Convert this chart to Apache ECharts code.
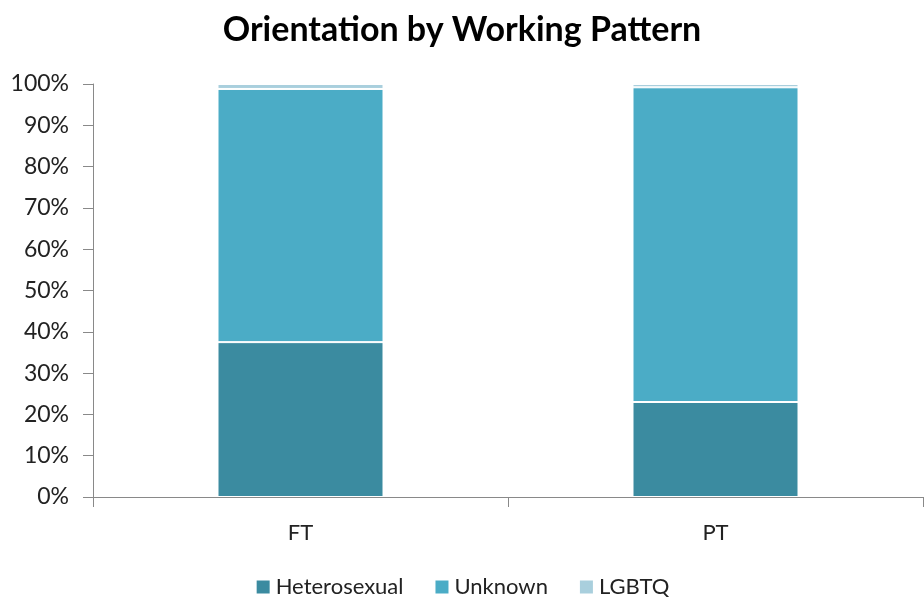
<!DOCTYPE html>
<html style="height: 100%">
    <head>
        <meta charset="utf-8">
        <title>Orientation by Working Pattern</title>
        <script type="text/javascript" src="https://cdn.jsdelivr.net/npm/echarts@6/dist/echarts.min.js"></script>
    </head>
    <body style="height: 100%; margin: 0">
        <div id="container" style="width: 924px; height: 606px"></div>
        <script type="text/javascript">

        var categories = ['FT', 'PT'];
        var heterosexual = [37.5, 23.0];
        var unknown = [61.3, 76.2];
        var lgbtq = [1.2, 0.8];
        var yTicks = [0, 10, 20, 30, 40, 50, 60, 70, 80, 90, 100];

        var myChart = echarts.init(document.getElementById('container'));
        var font = 'Lato, "Open Sans", sans-serif';

        function bar(name, data, color) {
            return {
                name: name,
                type: 'bar',
                stack: 'all',
                barWidth: '40%',
                data: data,
                itemStyle: { color: color, borderColor: '#ffffff', borderWidth: 1 }
            };
        }

        var option = {
            title: {
                text: 'Orientation by Working Pattern',
                left: 'center',
                top: 8,
                textStyle: { fontFamily: font, fontSize: 34, fontWeight: 'bold', color: '#000' }
            },
            legend: {
                bottom: 3,
                itemWidth: 15,
                itemHeight: 15,
                itemGap: 30,
                icon: 'rect',
                textStyle: { fontFamily: font, fontSize: 22, color: '#222' },
                data: ['Heterosexual', 'Unknown', 'LGBTQ']
            },
            grid: { left: 93, right: 1, top: 84, bottom: 109 },
            xAxis: {
                type: 'category',
                data: categories,
                axisLine: { lineStyle: { color: '#898989' } },
                axisTick: { show: true, length: 10, alignWithLabel: false, lineStyle: { color: '#898989' } },
                axisLabel: { fontFamily: font, fontSize: 22, color: '#222', margin: 25 }
            },
            yAxis: {
                type: 'value',
                min: yTicks[0],
                max: yTicks[yTicks.length - 1],
                interval: 10,
                axisLine: { show: true, lineStyle: { color: '#898989' } },
                axisTick: { show: true, length: 10, lineStyle: { color: '#898989' } },
                splitLine: { show: false },
                axisLabel: { fontFamily: font, fontSize: 23, color: '#222', margin: 24, formatter: '{value}%' }
            },
            series: [
                bar('Heterosexual', heterosexual, '#3b8ba0'),
                bar('Unknown', unknown, '#4bacc6'),
                bar('LGBTQ', lgbtq, '#a9cfdd')
            ]
        };
        myChart.setOption(option);
        </script>
    </body>
</html>
